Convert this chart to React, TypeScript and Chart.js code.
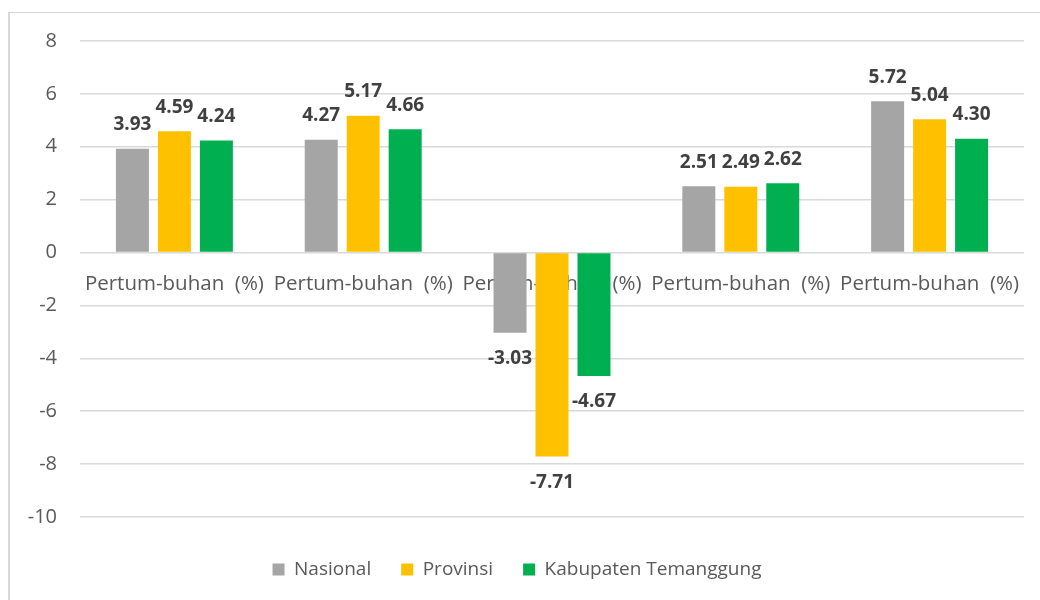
import React, { useEffect, useRef } from "react";
import { Chart, registerables } from "chart.js";

Chart.register(...registerables);

const categories = [
  "Pertum-buhan  (%)",
  "Pertum-buhan  (%)",
  "Pertum-buhan  (%)",
  "Pertum-buhan  (%)",
  "Pertum-buhan  (%)",
];
const seriesNames = ["Nasional", "Provinsi", "Kabupaten Temanggung"];
const nasional = [3.93, 4.27, -3.03, 2.51, 5.72];
const provinsi = [4.59, 5.17, -7.71, 2.49, 5.04];
const temanggung = [4.24, 4.66, -4.67, 2.62, 4.3];
const seriesColors = ["#A5A5A5", "#FFC000", "#00B050"];
const yMin = -10;
const yMax = 8;
const yStep = 2;

const FONT = "'Open Sans', 'DejaVu Sans', sans-serif";

const categoryLabelPlugin = {
  id: "categoryLabelsAtZero",
  beforeDatasetsDraw(chart: any) {
    const { ctx } = chart;
    const xs = chart.scales.x;
    const ys = chart.scales.y;
    const y0 = ys.getPixelForValue(0);
    ctx.save();
    ctx.font = `20.5px ${FONT}`;
    ctx.fillStyle = "#595959";
    ctx.textAlign = "center";
    ctx.textBaseline = "middle";
    categories.forEach((label, i) => {
      ctx.fillText(label, xs.getPixelForValue(i), y0 + 32);
    });
    ctx.restore();
  },
};

const dataLabelPlugin = {
  id: "barValueLabels",
  afterDatasetsDraw(chart: any) {
    const { ctx } = chart;
    ctx.save();
    ctx.font = `bold 19px ${FONT}`;
    ctx.fillStyle = "#404040";
    ctx.textAlign = "center";
    ctx.textBaseline = "middle";
    chart.data.datasets.forEach((ds: any, di: number) => {
      const meta = chart.getDatasetMeta(di);
      meta.data.forEach((el: any, i: number) => {
        const v = ds.data[i] as number;
        const y = v >= 0 ? el.y - 24 : el.y + 26;
        ctx.fillText(v.toFixed(2), el.x, y);
      });
    });
    ctx.restore();
  },
};

export default function App() {
  const canvasRef = useRef<HTMLCanvasElement | null>(null);

  useEffect(() => {
    if (!canvasRef.current) return;
    const values = [nasional, provinsi, temanggung];
    const chart = new Chart(canvasRef.current, {
      type: "bar",
      data: {
        labels: categories,
        datasets: seriesNames.map((name, i) => ({
          label: name,
          data: values[i],
          backgroundColor: seriesColors[i],
          borderWidth: 0,
          barPercentage: 0.786,
          categoryPercentage: 0.667,
        })),
      },
      options: {
        animation: false,
        responsive: false,
        maintainAspectRatio: false,
        layout: { padding: { left: 10, right: 16, top: 41, bottom: 11 } },
        plugins: {
          tooltip: { enabled: false },
          title: { display: false },
          legend: {
            position: "bottom",
            labels: {
              boxWidth: 12,
              boxHeight: 12,
              padding: 30,
              color: "#595959",
              font: { family: FONT, size: 19 },
            },
          },
        },
        scales: {
          x: {
            display: true,
            grid: { display: false, drawTicks: false },
            border: { display: false },
            ticks: { display: false },
            afterFit: (scale: any) => {
              scale.height = 13;
            },
          },
          y: {
            min: yMin,
            max: yMax,
            grid: { color: "#D9D9D9", lineWidth: 1.5, drawTicks: false },
            border: { display: false },
            ticks: {
              stepSize: yStep,
              padding: 23,
              color: "#595959",
              font: { family: FONT, size: 20 },
            },
            afterFit: (scale: any) => {
              scale.width = 70;
            },
          },
        },
      },
      plugins: [categoryLabelPlugin, dataLabelPlugin],
    });
    return () => chart.destroy();
  }, []);

  return (
    <div>
      <div
        style={{
          position: "fixed",
          left: 8,
          top: 12,
          width: 1100,
          height: 700,
          borderTop: "1px solid #D4D4D4",
          borderLeft: "2px solid #D9D9D9",
          boxSizing: "border-box",
        }}
      />
      <div style={{ position: "fixed", left: 0, top: 0, width: 1040, height: 600 }}>
        <canvas ref={canvasRef} width={1040} height={600} style={{ display: "block" }} />
      </div>
    </div>
  );
}
